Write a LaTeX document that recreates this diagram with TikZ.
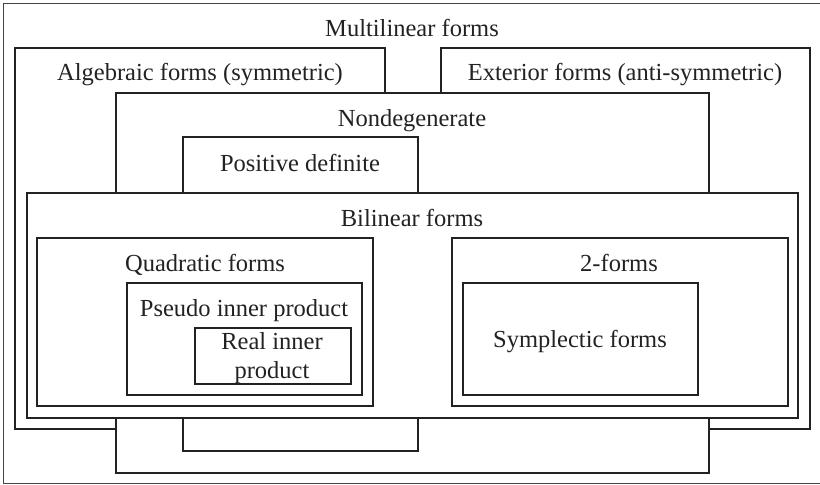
\documentclass[tikz,border=0pt]{standalone}
\usepackage{fontspec}
\setmainfont{Liberation Serif}
\definecolor{ink}{HTML}{222222}
\definecolor{outerink}{HTML}{444444}
\begin{document}
\begin{tikzpicture}[x=1pt,y=-1pt,
  setbox/.style={draw=ink,fill=white,line width=1.6pt},
  outerbox/.style={draw=outerink,line width=1.4pt},
  lbl/.style={anchor=base,inner sep=0pt,text=ink,font=\fontsize{24.5}{29.4}\selectfont}]
\useasboundingbox (0,0) rectangle (820,485);
\clip (0,0) rectangle (820,485);
% boxes
\draw[outerbox] (3.5,3.5) rectangle (830,483.5);
\draw[setbox] (15,48) rectangle (385,429);
\draw[setbox] (441,48) rectangle (810,429);
\draw[setbox] (116,93) rectangle (709,473);
\draw[setbox] (183,137) rectangle (418,451);
\draw[setbox] (27,193) rectangle (798,418);
\draw[setbox] (37,238) rectangle (373,406);
\draw[setbox] (127,283) rectangle (362,395);
\draw[setbox] (195,328) rectangle (351,384);
\draw[setbox] (452,238) rectangle (788,406);
\draw[setbox] (463,283) rectangle (698,395);
% labels
\node[lbl] (multi) at (412,36) {Multilinear forms};
\node[lbl] (alg) at (200,80) {Algebraic forms (symmetric)};
\node[lbl] (ext) at (625,80) {Exterior forms (anti-symmetric)};
\node[lbl] (nondeg) at (412,126) {Nondegenerate};
\node[lbl] (posdef) at (300,171) {Positive definite};
\node[lbl] (bilin) at (412,226) {Bilinear forms};
\node[lbl] (quad) at (205,271) {Quadratic forms};
\node[lbl] (pseudo) at (244,316) {Pseudo inner product};
\node[lbl] (real1) at (272,349) {Real inner};
\node[lbl] (real2) at (272,378) {product};
\node[lbl] (twof) at (619,271) {2-forms};
\node[lbl] (sympl) at (580,347) {Symplectic forms};
\end{tikzpicture}
\end{document}
